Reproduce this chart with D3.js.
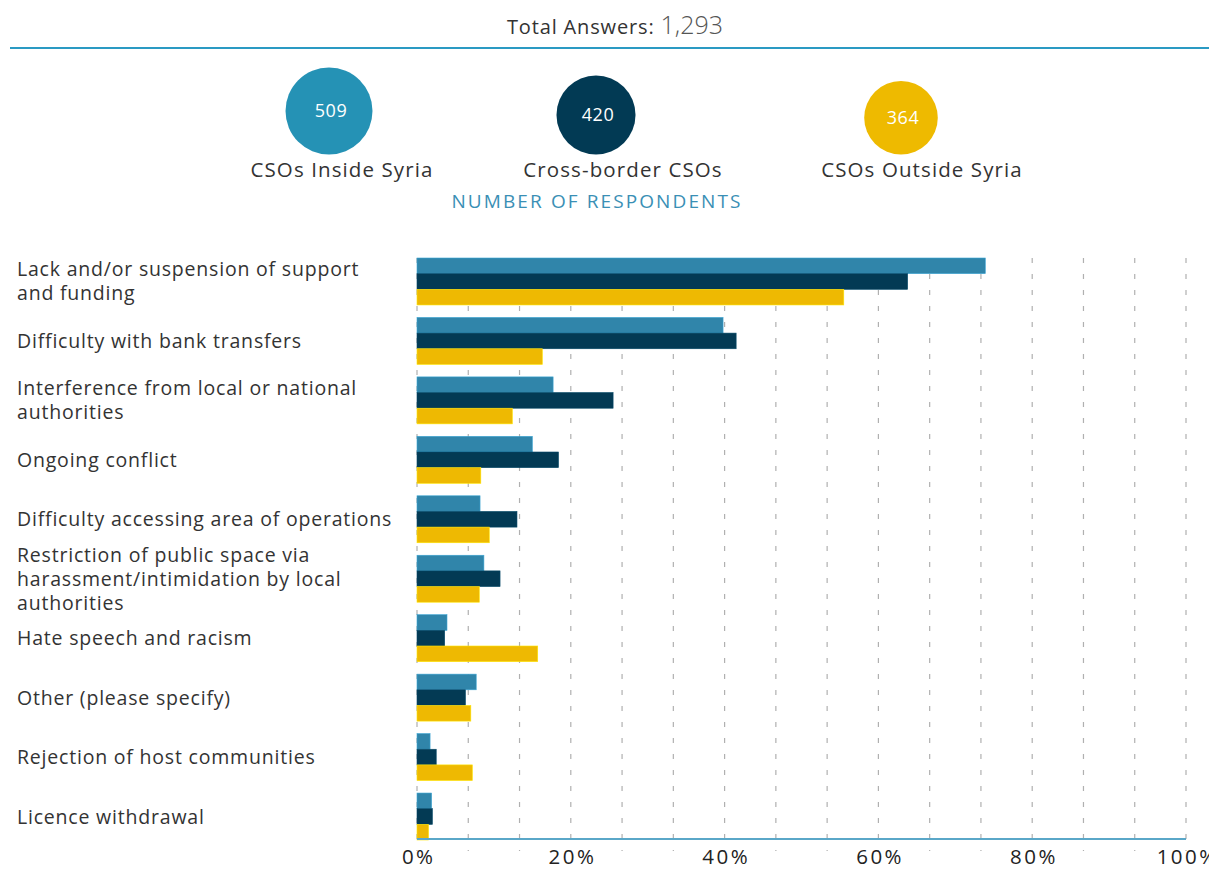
<!DOCTYPE html>
<html>
<head>
<meta charset="utf-8">
<script src="https://cdn.jsdelivr.net/npm/d3@7"></script>
<style>
  html, body { margin: 0; padding: 0; background: #fff; }
  svg { display: block; font-family: "Open Sans", "Noto Sans", sans-serif; }
</style>
</head>
<body>
<svg id="chart" width="1209" height="870"></svg>
<script>
// ---- data ----
const totalAnswers = 1293;
const groups = ["CSOs Inside Syria", "Cross-border CSOs", "CSOs Outside Syria"];
const respondents = [509, 420, 364];
const categories = [
  "Lack and/or suspension of support\nand funding",
  "Difficulty with bank transfers",
  "Interference from local or national\nauthorities",
  "Ongoing conflict",
  "Difficulty accessing area of operations",
  "Restriction of public space via\nharassment/intimidation by local\nauthorities",
  "Hate speech and racism",
  "Other (please specify)",
  "Rejection of host communities",
  "Licence withdrawal"
];
const insideSyria  = [73.9, 39.8, 17.7, 15.0, 8.2, 8.7, 3.9, 7.7, 1.7, 1.9];
const crossBorder  = [63.8, 41.5, 25.5, 18.4, 13.0, 10.8, 3.6, 6.3, 2.5, 2.0];
const outsideSyria = [55.5, 16.3, 12.4, 8.3, 9.4, 8.1, 15.7, 7.0, 7.2, 1.5];
const tickValues = [0, 20, 40, 60, 80, 100];

// ---- style / layout ----
const barColors = ["#3085aa", "#033a54", "#eeb902"];
const circleColors = ["#2592b5", "#023a54", "#eeba00"];
const series = [insideSyria, crossBorder, outsideSyria];
const svg = d3.select("#chart");

// header
const header = svg.append("text").attr("x", 615).attr("y", 34)
  .attr("text-anchor", "middle").attr("fill", "#333");
header.append("tspan").attr("font-size", 20).attr("letter-spacing", 0.85).text("Total Answers: ");
header.append("tspan").attr("font-size", 25).attr("font-weight", 300).attr("fill", "#555")
  .text(d3.format(",")(totalAnswers));
svg.append("line").attr("x1", 10).attr("x2", 1209).attr("y1", 48).attr("y2", 48)
  .attr("stroke", "#2a9ac3").attr("stroke-width", 2);

// respondent circles
const rScale = d3.scaleSqrt().domain([0, d3.max(respondents)]).range([0, 43.5]);
const circleX = [329, 596, 901];
const labelX = [342, 623, 922];
const leg = svg.append("g");
respondents.forEach((v, i) => {
  const r = rScale(v);
  const cy = 154.5 - r;
  leg.append("circle").attr("cx", circleX[i]).attr("cy", cy).attr("r", r).attr("fill", circleColors[i]);
  leg.append("text").attr("x", circleX[i] + 2).attr("y", cy + 6).attr("text-anchor", "middle")
    .attr("fill", "#fff").attr("font-size", 18).attr("letter-spacing", 0.5).text(v);
  leg.append("text").attr("x", labelX[i]).attr("y", 177).attr("text-anchor", "middle")
    .attr("fill", "#333").attr("font-size", 20.5).attr("letter-spacing", 1.1).text(groups[i]);
});
svg.append("text").attr("x", 597).attr("y", 208).attr("text-anchor", "middle")
  .attr("fill", "#3a8fb5").attr("font-size", 19).attr("letter-spacing", 2.1)
  .text("NUMBER OF RESPONDENTS");

// chart scales
const x = d3.scaleLinear().domain([0, 100]).range([417, 1186]);
const y = d3.scaleBand().domain(categories).range([258, 840]).paddingInner(0.21).paddingOuter(0);
const ySub = d3.scaleBand().domain(d3.range(3)).range([0, y.bandwidth()]);

// grid
const gridVals = d3.range(0, 100.001, 100 / 15);
svg.append("g").selectAll("line").data(gridVals).join("line")
  .attr("x1", d => x(d)).attr("x2", d => x(d))
  .attr("y1", 258).attr("y2", 851)
  .attr("stroke", "#b0b0b0").attr("stroke-width", 1.2)
  .attr("stroke-dasharray", "5,11");

// bars
const gBars = svg.append("g");
categories.forEach((c, ci) => {
  series.forEach((s, si) => {
    gBars.append("rect")
      .attr("x", x(0)).attr("y", y(c) + ySub(si))
      .attr("width", x(s[ci]) - x(0)).attr("height", ySub.bandwidth())
      .attr("fill", barColors[si])
      .attr("stroke", d3.color(barColors[si]).brighter(0.6)).attr("stroke-width", 0.6);
  });
});

// axis
svg.append("line").attr("x1", x(0)).attr("x2", x(100)).attr("y1", 839).attr("y2", 839)
  .attr("stroke", "#5aa7c8").attr("stroke-width", 2);
const xAxis = d3.axisBottom(x).tickValues(tickValues).tickFormat(d => d + "%").tickSize(0).tickPadding(0);
const ax = svg.append("g").attr("transform", "translate(0,839)").call(xAxis);
ax.select(".domain").remove();
ax.selectAll("text").attr("font-size", 20.5).attr("fill", "#222").attr("letter-spacing", 2.5)
  .attr("font-family", "\"Open Sans\", sans-serif").attr("y", 25).attr("dy", 0).attr("dx", 1.2);

// category labels
const lh = 24;
const gLab = svg.append("g");
categories.forEach(c => {
  const lines = c.split("\n");
  const cy = y(c) + y.bandwidth() / 2;
  const t = gLab.append("text").attr("x", 17).attr("fill", "#333").attr("font-size", 19.5).attr("letter-spacing", 0.8);
  lines.forEach((ln, li) => {
    t.append("tspan").attr("x", 17).attr("y", cy - (lines.length - 1) * lh / 2 + 7 + li * lh).text(ln);
  });
});
</script>
</body>
</html>
